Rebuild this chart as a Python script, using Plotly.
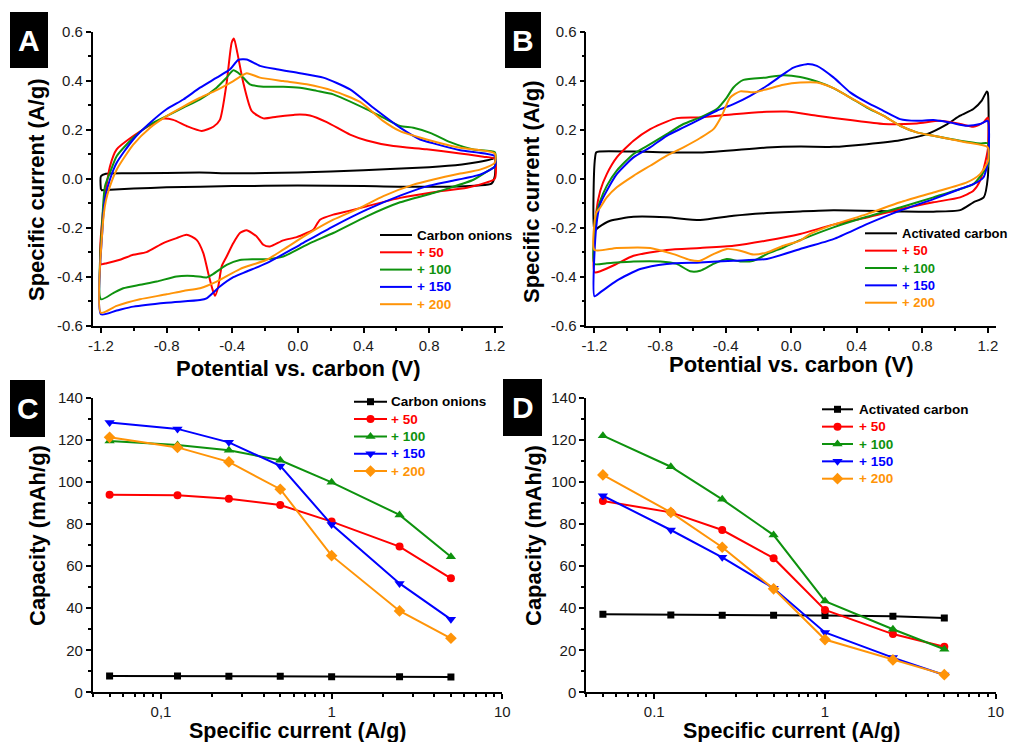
import plotly.graph_objects as go

# ---------------- DATA ----------------
# Panel A: CV of carbon onions (+ additions); loops: start at -1.2 (lower), anodic branch up to 1.2, cathodic back
A_onions_x = [-1.2, -1.2, -1.17, -1.0, -0.6, -0.4, 0.0, 0.4, 0.8, 1.0, 1.1, 1.18, 1.2, 1.2, 1.18, 1.1, 0.8, 0.4, 0.0, -0.4, -0.8, -1.0, -1.2]
A_onions_y = [-0.045, 0.01, 0.02, 0.022, 0.025, 0.022, 0.025, 0.035, 0.047, 0.058, 0.068, 0.08, 0.085, 0.01, -0.02, -0.027, -0.033, -0.03, -0.028, -0.03, -0.035, -0.04, -0.047]

A_50_x = [-1.2, -1.19, -1.145, -1.104, -1.003, -0.90, -0.82, -0.759, -0.678, -0.586, -0.515, -0.475, -0.434, -0.403, -0.389, -0.369, -0.332, -0.281, -0.21, -0.129, -0.027, 0.013, 0.074, 0.176, 0.318, 0.42, 0.582, 0.785, 0.989, 1.13, 1.2,
          1.2, 1.151, 1.03, 0.826, 0.623, 0.42, 0.318, 0.216, 0.135, 0.094, 0.054, -0.007, -0.089, -0.17, -0.21, -0.251, -0.312, -0.353, -0.393, -0.434, -0.464, -0.485, -0.505, -0.519, -0.546, -0.576, -0.617, -0.678, -0.739, -0.82, -0.922, -1.003, -1.084, -1.165, -1.2]
A_50_y = [-0.348, -0.15, 0.05, 0.12, 0.174, 0.218, 0.245, 0.24, 0.215, 0.195, 0.212, 0.24, 0.39, 0.555, 0.571, 0.514, 0.39, 0.276, 0.246, 0.253, 0.26, 0.262, 0.258, 0.231, 0.18, 0.156, 0.133, 0.12, 0.103, 0.09, 0.081,
          0.0, -0.015, -0.037, -0.055, -0.078, -0.112, -0.13, -0.146, -0.167, -0.208, -0.221, -0.238, -0.251, -0.276, -0.269, -0.235, -0.21, -0.221, -0.262, -0.317, -0.357, -0.439, -0.477, -0.453, -0.385, -0.303, -0.249, -0.228, -0.242, -0.262, -0.299, -0.31, -0.33, -0.344, -0.348]

A_100_x = [-1.2, -1.19, -1.175, -1.145, -1.104, -1.003, -0.90, -0.80, -0.698, -0.596, -0.495, -0.434, -0.393, -0.353, -0.292, -0.21, -0.089, 0.013, 0.115, 0.216, 0.42, 0.521, 0.623, 0.704, 0.806, 0.928, 1.07, 1.2,
           1.2, 1.171, 1.07, 0.928, 0.826, 0.623, 0.42, 0.216, 0.074, -0.089, -0.19, -0.271, -0.353, -0.434, -0.515, -0.556, -0.637, -0.739, -0.86, -0.962, -1.064, -1.125, -1.2]
A_100_y = [-0.491, -0.15, -0.03, 0.024, 0.092, 0.167, 0.221, 0.255, 0.29, 0.323, 0.371, 0.412, 0.442, 0.426, 0.385, 0.375, 0.375, 0.371, 0.358, 0.344, 0.283, 0.249, 0.215, 0.208, 0.187, 0.149, 0.119, 0.108,
           0.05, 0.037, -0.004, -0.037, -0.058, -0.096, -0.153, -0.221, -0.262, -0.317, -0.328, -0.328, -0.331, -0.351, -0.388, -0.402, -0.396, -0.398, -0.419, -0.432, -0.446, -0.466, -0.491]

A_150_x = [-1.2, -1.19, -1.175, -1.145, -1.104, -1.003, -0.90, -0.80, -0.698, -0.596, -0.495, -0.413, -0.363, -0.312, -0.231, -0.129, 0.013, 0.155, 0.318, 0.46, 0.623, 0.745, 0.826, 0.989, 1.2,
           1.2, 1.11, 0.928, 0.785, 0.623, 0.42, 0.216, 0.013, -0.19, -0.312, -0.393, -0.475, -0.556, -0.596, -0.80, -1.003, -1.104, -1.2]
A_150_y = [-0.552, -0.2, -0.08, -0.003, 0.065, 0.16, 0.228, 0.283, 0.323, 0.371, 0.412, 0.446, 0.484, 0.486, 0.46, 0.446, 0.43, 0.412, 0.364, 0.289, 0.208, 0.16, 0.144, 0.116, 0.092,
           0.05, 0.017, -0.01, -0.031, -0.069, -0.126, -0.194, -0.269, -0.344, -0.378, -0.401, -0.439, -0.487, -0.494, -0.505, -0.521, -0.537, -0.552]

A_200_x = [-1.2, -1.19, -1.17, -1.145, -1.104, -1.003, -0.90, -0.80, -0.698, -0.596, -0.495, -0.393, -0.312, -0.231, -0.089, 0.054, 0.216, 0.379, 0.521, 0.623, 0.785, 0.989, 1.2,
           1.2, 1.11, 0.989, 0.826, 0.704, 0.521, 0.379, 0.216, 0.054, -0.089, -0.19, -0.353, -0.495, -0.596, -0.698, -0.80, -0.962, -1.104, -1.2]
A_200_y = [-0.546, -0.2, -0.09, -0.031, 0.037, 0.139, 0.208, 0.255, 0.294, 0.33, 0.361, 0.398, 0.43, 0.412, 0.398, 0.385, 0.358, 0.313, 0.235, 0.194, 0.16, 0.126, 0.103,
           0.065, 0.037, 0.021, -0.003, -0.024, -0.071, -0.119, -0.167, -0.228, -0.289, -0.33, -0.368, -0.419, -0.446, -0.457, -0.471, -0.491, -0.518, -0.546]

# Panel B: CV of activated carbon (+ additions)
B_ac_x = [-1.2, -1.2, -1.19, -1.17, -0.962, -0.555, -0.148, 0.055, 0.258, 0.462, 0.665, 0.828, 0.95, 1.031, 1.112, 1.163, 1.194, 1.2,
          1.2, 1.175, 1.112, 1.031, 0.868, 0.665, 0.258, 0.055, -0.148, -0.352, -0.555, -0.759, -0.962, -1.104, -1.176, -1.2]
B_ac_y = [-0.212, 0.06, 0.107, 0.111, 0.111, 0.107, 0.127, 0.131, 0.13, 0.141, 0.157, 0.182, 0.222, 0.257, 0.284, 0.318, 0.356, 0.35,
          0.005, -0.076, -0.096, -0.128, -0.134, -0.133, -0.128, -0.133, -0.14, -0.151, -0.168, -0.157, -0.155, -0.171, -0.198, -0.212]

B_50_x = [-1.2, -1.19, -1.165, -1.125, -1.064, -0.962, -0.86, -0.759, -0.698, -0.555, -0.352, -0.148, -0.027, 0.157, 0.36, 0.563, 0.767, 0.909, 1.031, 1.112, 1.173, 1.2,
          1.2, 1.153, 1.112, 1.031, 0.868, 0.665, 0.462, 0.258, 0.055, -0.148, -0.352, -0.555, -0.759, -0.962, -1.064, -1.165, -1.2]
B_50_y = [-0.381, -0.14, -0.049, 0.019, 0.087, 0.155, 0.202, 0.233, 0.247, 0.25, 0.263, 0.273, 0.274, 0.257, 0.239, 0.223, 0.225, 0.236, 0.223, 0.212, 0.229, 0.25,
          0.12, -0.008, -0.049, -0.076, -0.096, -0.124, -0.158, -0.187, -0.225, -0.252, -0.273, -0.282, -0.29, -0.314, -0.347, -0.377, -0.381]

B_100_x = [-1.2, -1.19, -1.165, -1.125, -1.064, -0.962, -0.86, -0.759, -0.657, -0.555, -0.454, -0.393, -0.352, -0.291, -0.148, -0.047, 0.055, 0.157, 0.258, 0.36, 0.462, 0.563, 0.665, 0.767, 0.868, 1.031, 1.153, 1.2,
           1.2, 1.173, 1.112, 1.031, 0.868, 0.665, 0.462, 0.258, 0.055, -0.047, -0.148, -0.23, -0.311, -0.393, -0.474, -0.555, -0.616, -0.698, -0.799, -0.962, -1.125, -1.2]
B_100_y = [-0.347, -0.15, -0.09, -0.029, 0.033, 0.101, 0.141, 0.182, 0.223, 0.25, 0.284, 0.331, 0.372, 0.403, 0.413, 0.422, 0.415, 0.396, 0.369, 0.331, 0.29, 0.257, 0.216, 0.189, 0.175, 0.155, 0.144, 0.144,
           0.05, 0.026, -0.022, -0.042, -0.076, -0.117, -0.155, -0.198, -0.25, -0.28, -0.307, -0.334, -0.337, -0.327, -0.347, -0.375, -0.377, -0.347, -0.337, -0.337, -0.344, -0.347]

B_150_x = [-1.2, -1.19, -1.165, -1.125, -1.064, -0.962, -0.86, -0.759, -0.657, -0.555, -0.454, -0.352, -0.25, -0.148, -0.047, 0.014, 0.095, 0.157, 0.258, 0.36, 0.462, 0.563, 0.665, 0.767, 0.868, 0.97, 1.072, 1.153, 1.2,
           1.2, 1.173, 1.112, 1.031, 0.868, 0.665, 0.462, 0.258, 0.055, -0.148, -0.352, -0.555, -0.759, -0.921, -1.064, -1.165, -1.2]
B_150_y = [-0.479, -0.2, -0.103, -0.049, 0.019, 0.087, 0.128, 0.175, 0.209, 0.243, 0.277, 0.304, 0.338, 0.379, 0.426, 0.453, 0.467, 0.46, 0.413, 0.352, 0.311, 0.277, 0.243, 0.236, 0.239, 0.229, 0.216, 0.223, 0.236,
           0.07, 0.005, -0.022, -0.042, -0.083, -0.13, -0.185, -0.246, -0.286, -0.327, -0.334, -0.341, -0.347, -0.368, -0.415, -0.463, -0.479]

B_200_x = [-1.2, -1.19, -1.165, -1.125, -1.064, -0.962, -0.86, -0.759, -0.657, -0.555, -0.474, -0.423, -0.372, -0.311, -0.23, -0.148, -0.047, 0.055, 0.157, 0.258, 0.36, 0.462, 0.563, 0.665, 0.767, 0.868, 1.072, 1.2,
           1.2, 1.153, 1.072, 0.868, 0.665, 0.462, 0.258, 0.116, 0.055, -0.047, -0.148, -0.23, -0.311, -0.393, -0.474, -0.555, -0.616, -0.718, -0.86, -1.064, -1.2]
B_200_y = [-0.29, -0.14, -0.117, -0.076, -0.035, 0.012, 0.053, 0.094, 0.128, 0.166, 0.202, 0.257, 0.331, 0.356, 0.352, 0.365, 0.383, 0.392, 0.392, 0.369, 0.331, 0.293, 0.257, 0.216, 0.189, 0.175, 0.148, 0.128,
           0.07, 0.019, -0.015, -0.056, -0.096, -0.144, -0.187, -0.225, -0.252, -0.273, -0.3, -0.309, -0.293, -0.286, -0.307, -0.334, -0.331, -0.307, -0.282, -0.282, -0.29]

# Panels C/D: rate capability
rate_current = [0.05, 0.125, 0.25, 0.5, 1, 2.5, 5]
C_onions = [7.8, 7.7, 7.6, 7.6, 7.4, 7.4, 7.3]
C_50 = [94.0, 93.7, 92.1, 89.1, 81.2, 69.3, 54.2]
C_100 = [119.5, 117.6, 115.1, 110.4, 99.9, 84.4, 64.5]
C_150 = [128.3, 125.3, 118.9, 107.7, 79.8, 51.8, 34.7]
C_200 = [121.3, 116.5, 109.6, 96.6, 65.0, 38.7, 25.7]
D_ac = [37.1, 36.8, 36.6, 36.6, 36.5, 36.2, 35.4]
D_50 = [91.0, 85.6, 77.2, 63.8, 39.2, 27.7, 21.7]
D_100 = [122.1, 107.3, 91.8, 74.8, 43.4, 30.0, 20.5]
D_150 = [93.5, 77.2, 64.2, 49.5, 28.5, 16.5, 8.2]
D_200 = [103.4, 85.6, 69.0, 49.2, 25.1, 15.4, 8.4]

series_names = ["+ 50", "+ 100", "+ 150", "+ 200"]
cv_xticks = [-1.2, -0.8, -0.4, 0.0, 0.4, 0.8, 1.2]
cv_xticklabels = ["-1.2", "-0.8", "-0.4", "0.0", "0.4", "0.8", "1.2"]
cv_yticks = [-0.6, -0.4, -0.2, 0.0, 0.2, 0.4, 0.6]
cv_yticklabels = ["-0.6", "-0.4", "-0.2", "0.0", "0.2", "0.4", "0.6"]
cap_yticks = [0, 20, 40, 60, 80, 100, 120, 140]
rate_xticks = [0.1, 1, 10]
C_xticklabels = ["0,1", "1", "10"]
D_xticklabels = ["0.1", "1", "10"]

# ---------------- STYLE ----------------
W, H = 1009, 742
FONT = "Liberation Sans, Arial, sans-serif"
BLACK = "#000000"
RED = "#FF0000"
GREEN = "#0E920E"
BLUE = "#0000FF"
ORANGE = "#FF9408"
COLORS = [BLACK, RED, GREEN, BLUE, ORANGE]
SYMBOLS = ["square", "circle", "triangle-up", "triangle-down", "diamond"]
MSIZES = [7, 8, 9, 9, 9]


def px_x(p):
    return p / W


def px_y(p):
    return 1 - p / H


fig = go.Figure()

# CV panels
cv_sets = [
    ("x", "y", [(A_onions_x, A_onions_y), (A_50_x, A_50_y), (A_100_x, A_100_y), (A_150_x, A_150_y), (A_200_x, A_200_y)]),
    ("x2", "y2", [(B_ac_x, B_ac_y), (B_50_x, B_50_y), (B_100_x, B_100_y), (B_150_x, B_150_y), (B_200_x, B_200_y)]),
]
for xa, ya, curves in cv_sets:
    for i, (cx, cy) in enumerate(curves):
        fig.add_trace(go.Scatter(
            x=cx, y=cy, mode="lines", xaxis=xa, yaxis=ya, showlegend=False, hoverinfo="skip",
            line=dict(color=COLORS[i], width=2, shape="spline", smoothing=0.6),
        ))

rate_sets = [
    ("x3", "y3", [C_onions, C_50, C_100, C_150, C_200]),
    ("x4", "y4", [D_ac, D_50, D_100, D_150, D_200]),
]
for xa, ya, vals in rate_sets:
    for i, v in enumerate(vals):
        fig.add_trace(go.Scatter(
            x=rate_current, y=v, mode="lines+markers", xaxis=xa, yaxis=ya, showlegend=False,
            line=dict(color=COLORS[i], width=2),
            marker=dict(color=COLORS[i], symbol=SYMBOLS[i], size=MSIZES[i]),
        ))

# ---- manual legends (pixel overlay axis x5/y5) ----
legends = [
    # (line x0, line x1, text x, first y, dy, names, with markers, font size)
    (380, 412, 415, 235, 17.3, ["Carbon onions"] + series_names, False, 13.5),
    (865, 897, 900, 233.3, 17.35, ["Activated carbon"] + series_names, False, 13),
    (354, 387, 389, 401.7, 17.35, ["Carbon onions"] + series_names, True, 13.5),
    (822, 853, 857, 409.3, 17.35, ["Activated carbon"] + series_names, True, 13.5),
]
for lx0, lx1, tx, y0, dy, names, mk, fs in legends:
    for i, nm in enumerate(names):
        yy = y0 + i * dy
        fig.add_trace(go.Scatter(
            x=[lx0, lx1], y=[yy, yy], mode="lines", xaxis="x5", yaxis="y5", showlegend=False, hoverinfo="skip",
            line=dict(color=COLORS[i], width=2),
        ))
        if mk:
            fig.add_trace(go.Scatter(
                x=[(lx0 + lx1) / 2], y=[yy], mode="markers", xaxis="x5", yaxis="y5", showlegend=False, hoverinfo="skip",
                marker=dict(color=COLORS[i], symbol=SYMBOLS[i], size=MSIZES[i]),
            ))
        fig.add_annotation(text=f"<b>{nm}</b>", x=px_x(tx), y=px_y(yy), xref="paper", yref="paper",
                           showarrow=False, xanchor="left", yanchor="middle",
                           font=dict(family=FONT, size=fs, color=COLORS[i]))

axis_common = dict(
    showline=True, linecolor=BLACK, linewidth=1.5, mirror=False, automargin=False,
    showgrid=False, zeroline=False, ticks="outside", ticklen=5, tickwidth=1.5,
    tickcolor=BLACK, tickfont=dict(family=FONT, size=15, color="#1a1a1a"),
)

dom_A_x = [px_x(92.7), px_x(503)]
dom_B_x = [px_x(586.3), px_x(996)]
dom_top_y = [px_y(326), px_y(31.5)]
dom_C_x = [px_x(92.7), px_x(502.3)]
dom_D_x = [px_x(586), px_x(995.7)]
dom_bot_y = [px_y(692.3), px_y(398)]

minor_cv_x = dict(ticks="outside", ticklen=3, tickwidth=1.5, tickcolor=BLACK, dtick=0.2, tick0=0, showgrid=False)
minor_cv_y = dict(ticks="outside", ticklen=3, tickwidth=1.5, tickcolor=BLACK, dtick=0.1, tick0=0, showgrid=False)
minor_cap_y = dict(ticks="outside", ticklen=3, tickwidth=1.5, tickcolor=BLACK, dtick=10, tick0=0, showgrid=False)
log_minor_vals = [m * 10 ** e for e in (-2, -1, 0) for m in range(2, 10)]
minor_log_x = dict(ticks="outside", ticklen=3, tickwidth=1.5, tickcolor=BLACK, tickvals=log_minor_vals, showgrid=False)

fig.update_layout(
    template="none",
    xaxis=dict(axis_common, domain=dom_A_x, anchor="y", range=[-1.25, 1.25],
               tickvals=cv_xticks, ticktext=cv_xticklabels, minor=minor_cv_x),
    yaxis=dict(axis_common, domain=dom_top_y, anchor="x", range=[-0.6, 0.6],
               tickvals=cv_yticks, ticktext=cv_yticklabels, minor=minor_cv_y),
    xaxis2=dict(axis_common, domain=dom_B_x, anchor="y2", range=[-1.25, 1.25],
                tickvals=cv_xticks, ticktext=cv_xticklabels, minor=minor_cv_x),
    yaxis2=dict(axis_common, domain=dom_top_y, anchor="x2", range=[-0.6, 0.6],
                tickvals=cv_yticks, ticktext=cv_yticklabels, minor=minor_cv_y),
    xaxis3=dict(axis_common, domain=dom_C_x, anchor="y3", type="log", range=[-1.4, 1],
                tickvals=rate_xticks, ticktext=C_xticklabels, minor=minor_log_x),
    yaxis3=dict(axis_common, domain=dom_bot_y, anchor="x3", range=[0, 140],
                tickvals=cap_yticks, minor=minor_cap_y),
    xaxis4=dict(axis_common, domain=dom_D_x, anchor="y4", type="log", range=[-1.4, 1],
                tickvals=rate_xticks, ticktext=D_xticklabels, minor=minor_log_x),
    yaxis4=dict(axis_common, domain=dom_bot_y, anchor="x4", range=[0, 140],
                tickvals=cap_yticks, minor=minor_cap_y),
    xaxis5=dict(domain=[0, 1], range=[0, W], visible=False, fixedrange=True, automargin=False),
    yaxis5=dict(domain=[0, 1], range=[H, 0], visible=False, fixedrange=True, automargin=False, anchor="x5"),
    width=W, height=H, margin=dict(l=0, r=0, t=0, b=0, pad=0, autoexpand=False),
    paper_bgcolor="white", plot_bgcolor="rgba(0,0,0,0)",
    font=dict(family=FONT, color=BLACK),
    showlegend=False,
)

# Axis titles
titles = [
    ("<b>Specific current (A/g)</b>", 36, 190, -90, 22),
    ("<b>Potential vs. carbon (V)</b>", 298, 368, 0, 22),
    ("<b>Specific current (A/g)</b>", 531, 192, -90, 22),
    ("<b>Potential vs. carbon (V)</b>", 791, 364, 0, 22),
    ("<b>Capacity (mAh/g)</b>", 37, 536, -90, 22),
    ("<b>Specific current (A/g)</b>", 297, 731, 0, 21.5),
    ("<b>Capacity (mAh/g)</b>", 533, 536, -90, 22),
    ("<b>Specific current (A/g)</b>", 791, 731, 0, 21.5),
]
for text, cx, cy, ang, fs in titles:
    fig.add_annotation(text=text, x=px_x(cx), y=px_y(cy), xref="paper", yref="paper",
                       showarrow=False, textangle=ang, font=dict(family=FONT, size=fs, color=BLACK),
                       xanchor="center", yanchor="middle")

# Panel letters
panels = [("A", 10, 48, 12, 68), ("B", 505, 541, 12, 68), ("C", 10, 45, 380, 437), ("D", 503, 542, 379, 436)]
for letter, x0, x1, y0, y1 in panels:
    fig.add_shape(type="rect", xref="paper", yref="paper", x0=px_x(x0), x1=px_x(x1), y0=px_y(y1), y1=px_y(y0),
                  fillcolor=BLACK, line=dict(width=0))
    fig.add_annotation(text=f"<b>{letter}</b>", x=px_x((x0 + x1) / 2), y=px_y((y0 + y1) / 2), xref="paper", yref="paper",
                       showarrow=False, font=dict(family=FONT, size=30, color="white"), xanchor="center", yanchor="middle")

fig.write_html("out.html", config={"responsive": False, "displayModeBar": False},
               post_script="document.body.style.margin='0';")
